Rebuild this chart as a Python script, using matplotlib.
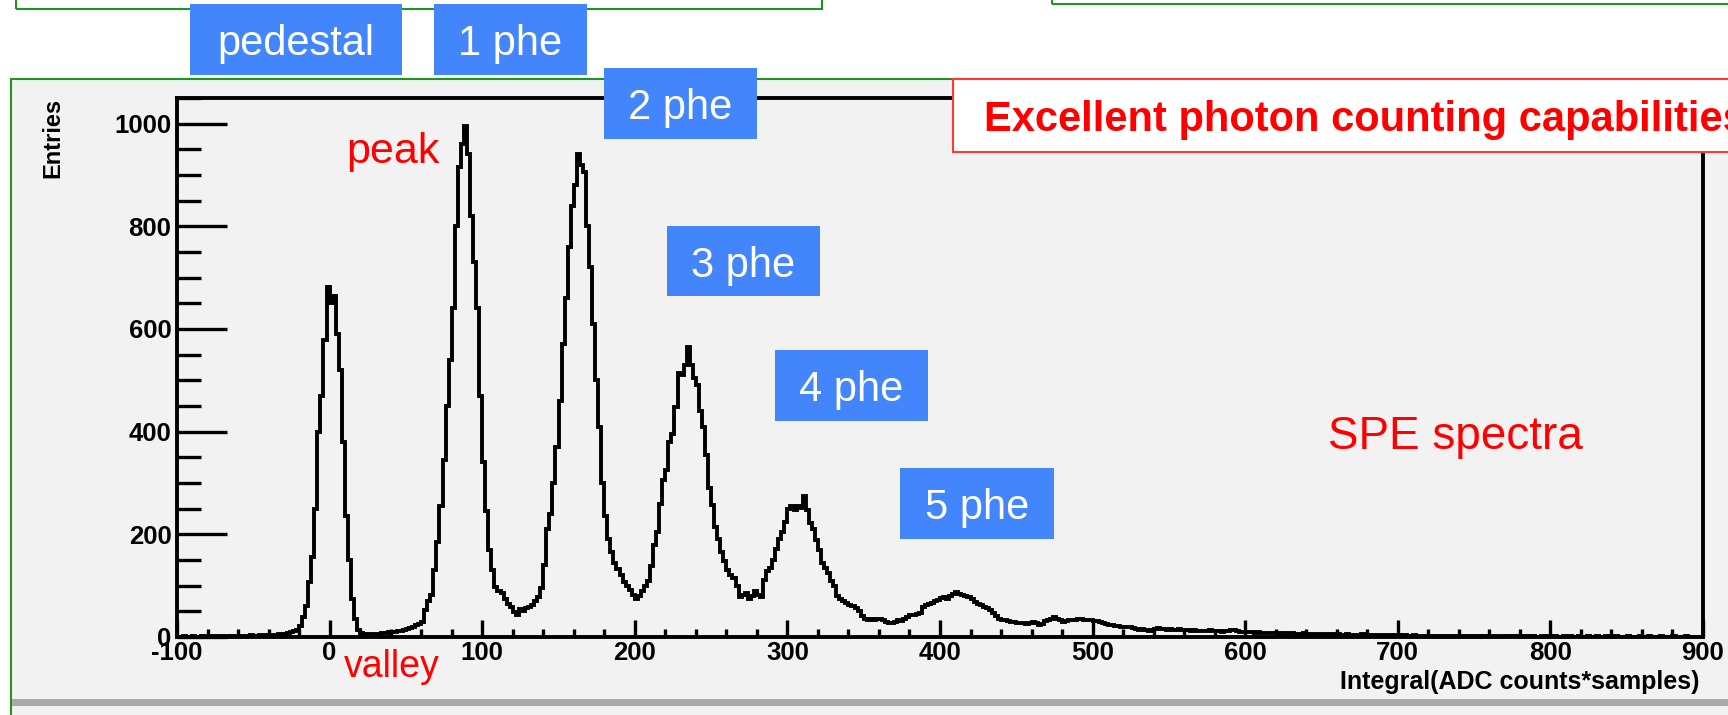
import matplotlib
matplotlib.use('Agg')
import matplotlib.pyplot as plt
from matplotlib.patches import Rectangle
from matplotlib.ticker import MultipleLocator
import numpy as np

plt.rcParams['font.family'] = ['Liberation Sans', 'DejaVu Sans']
plt.rcParams['axes.unicode_minus'] = False

# SPE spectrum, 2-unit bins from -100 to 900
x_lo, x_hi = -100, 900
counts = np.array([
    0, 0, 1, 0, 0, 1, 0, 0, 1, 0,                      # -100
    1, 0, 1, 1, 0, 2, 1, 1, 0, 2,                      # -80
    1, 2, 1, 2, 3, 2, 2, 3, 2, 4,                      # -60
    3, 4, 3, 5, 4, 6, 7, 9, 11, 14,                    # -40
    22, 38, 60, 108, 155, 250, 400, 470, 578, 682,     # -20
    650, 665, 590, 520, 380, 235, 150, 75, 35, 14,     # 0
    8, 5, 4, 5, 4, 6, 5, 7, 8, 10,                     # 20
    9, 10, 11, 12, 14, 16, 18, 20, 23, 26,             # 40
    30, 52, 70, 82, 130, 185, 255, 345, 450, 540,      # 60
    640, 800, 915, 960, 995, 940, 820, 730, 640, 470,  # 80
    340, 245, 170, 130, 98, 90, 85, 75, 65, 58,        # 100
    48, 42, 55, 50, 56, 58, 62, 70, 78, 95,            # 120
    140, 210, 240, 300, 370, 460, 570, 660, 760, 840,  # 140
    880, 940, 920, 905, 800, 720, 610, 500, 410, 300,  # 160
    235, 190, 165, 145, 132, 120, 108, 100, 92, 82,    # 180
    75, 80, 90, 100, 110, 138, 180, 205, 260, 305,     # 200
    325, 380, 395, 448, 515, 510, 530, 565, 530, 505,  # 220
    490, 440, 410, 355, 290, 258, 215, 190, 165, 148,  # 240
    130, 120, 115, 100, 78, 82, 85, 75, 80, 90,        # 260
    82, 78, 112, 128, 135, 150, 172, 190, 205, 225,    # 280
    250, 255, 248, 255, 252, 275, 248, 222, 210, 188,  # 300
    170, 145, 135, 125, 110, 100, 80, 75, 70, 66,      # 320
    62, 60, 56, 50, 40, 36, 33, 35, 34, 36,            # 340
    35, 33, 30, 28, 27, 30, 33, 32, 36, 39,            # 360
    42, 43, 45, 46, 58, 62, 64, 66, 70, 72,            # 380
    76, 78, 74, 79, 83, 88, 84, 82, 80, 78,            # 400
    74, 68, 65, 62, 59, 56, 53, 46, 40, 36,            # 420
    34, 33, 31, 30, 30, 28, 27, 27, 25, 28,            # 440
    30, 28, 24, 26, 32, 33, 35, 38, 36, 33,            # 460
    30, 32, 33, 34, 33, 36, 35, 34, 33, 33,            # 480
    32, 31, 30, 28, 26, 23, 24, 22, 21, 20,            # 500
    20, 19, 19, 17, 16, 14, 15, 13, 12, 14,            # 520
    16, 17, 15, 16, 14, 15, 13, 14, 15, 14,            # 540
    13, 14, 12, 13, 11, 12, 12, 11, 13, 12,            # 560
    11, 12, 10, 11, 12, 13, 14, 11, 10, 9,             # 580
    9, 10, 9, 8, 9, 8, 7, 8, 7, 8,                     # 600
    7, 6, 7, 6, 7, 7, 6, 5, 6, 7,                      # 620
    6, 5, 6, 5, 4, 5, 5, 6, 5, 4,                      # 640
    5, 4, 4, 5, 4, 3, 4, 4, 5, 3,                      # 660
    4, 3, 3, 4, 3, 2, 3, 3, 2, 3,                      # 680
    3, 2, 3, 2, 2, 3, 2, 2, 1, 2,                      # 700
    2, 2, 1, 2, 1, 2, 1, 1, 2, 1,                      # 720
    1, 2, 1, 1, 1, 2, 1, 0, 1, 1,                      # 740
    1, 1, 0, 1, 1, 0, 1, 1, 0, 1,                      # 760
    0, 1, 1, 0, 1, 0, 0, 1, 0, 1,                      # 780
    0, 1, 0, 0, 1, 0, 1, 0, 0, 1,                      # 800
    0, 0, 1, 0, 0, 1, 0, 0, 1, 0,                      # 820
    0, 1, 0, 0, 0, 1, 0, 0, 0, 1,                      # 840
    0, 0, 1, 0, 0, 0, 1, 0, 0, 0,                      # 860
    1, 0, 0, 0, 1, 0, 0, 0, 0, 0,                      # 880
])
edges = np.linspace(x_lo, x_hi, len(counts) + 1)

peak_labels = ['pedestal', '1 phe', '2 phe', '3 phe', '4 phe', '5 phe']

W, H = 1728, 715
fig = plt.figure(figsize=(W / 100, H / 100), dpi=100)
fig.patch.set_facecolor('white')


def fx(px):
    return px / W


def fy(py):
    return 1 - py / H


def box(x0, y0, x1, y1, zorder=-1, **kw):
    r = Rectangle((fx(x0), fy(y1)), fx(x1) - fx(x0), fy(y0) - fy(y1),
                  transform=fig.transFigure, zorder=zorder, **kw)
    fig.add_artist(r)
    return r


green = '#1e961e'
# slide frames behind the plot
box(16, -20, 822, 9, facecolor='none', edgecolor=green, lw=1.5)
box(1052, -20, 1760, 3.5, facecolor='none', edgecolor=green, lw=1.5)
box(11, 79, 1760, 740, facecolor='#f2f2f2', edgecolor=green, lw=1.5)
box(12, 699, 1760, 706, facecolor='#aaaaaa', edgecolor='none')

ax = fig.add_axes([fx(177), fy(637), fx(1703) - fx(177), fy(98) - fy(637)])
ax.set_facecolor('#f2f2f2')
ax.stairs(counts, edges, color='black', lw=2.8)
ax.set_xlim(x_lo, x_hi)
ax.set_ylim(0, 1050)

for s in ax.spines.values():
    s.set_linewidth(2.8)
ax.xaxis.set_major_locator(MultipleLocator(100))
ax.xaxis.set_minor_locator(MultipleLocator(20))
ax.yaxis.set_major_locator(MultipleLocator(200))
ax.yaxis.set_minor_locator(MultipleLocator(50))
ax.tick_params(axis='y', which='major', direction='in', length=36, width=2.4, pad=4)
ax.tick_params(axis='y', which='minor', direction='in', length=17, width=2.4)
ax.tick_params(axis='x', which='major', direction='in', length=12, width=2.4, pad=3)
ax.tick_params(axis='x', which='minor', direction='in', length=6, width=2.4)
for lab in ax.get_xticklabels() + ax.get_yticklabels():
    lab.set_fontweight('bold')
    lab.set_fontsize(18.5)

fig.text(fx(53), fy(98), 'Entries', rotation=90, ha='center', va='top',
         fontsize=17, fontweight='bold')
fig.text(fx(1700), fy(682), 'Integral(ADC counts*samples)', ha='right', va='center',
         fontsize=18, fontweight='bold')

# blue labels for the photo-electron peaks
blue = '#4385fb'
label_boxes = [(190, 4, 402, 75), (434, 4, 587, 75), (604, 68, 757, 139),
               (667, 226, 820, 296), (775, 350, 928, 421), (900, 468, 1054, 539)]
for name, (x0, y0, x1, y1) in zip(peak_labels, label_boxes):
    box(x0, y0, x1, y1, zorder=5, facecolor=blue, edgecolor='none')
    fig.text(fx((x0 + x1) / 2), fy((y0 + y1) / 2), name, color='white',
             ha='center', va='center_baseline', fontsize=30, zorder=6)

box(953, 79, 1760, 152, zorder=5, facecolor='white', edgecolor='#ff3b2f', lw=1.5)
fig.text(fx(984), fy(116), 'Excellent photon counting capabilities', color='red',
         ha='left', va='center_baseline', fontsize=30, fontweight='bold', zorder=6)

fig.text(fx(393), fy(147), 'peak', color='red', ha='center', va='center_baseline', fontsize=31)
fig.text(fx(392), fy(663), 'valley', color='red', ha='center', va='center_baseline', fontsize=27)
fig.text(fx(1455), fy(432), 'SPE spectra', color='red', ha='center', va='center_baseline',
         fontsize=33)

fig.savefig('out.png', dpi=100)
